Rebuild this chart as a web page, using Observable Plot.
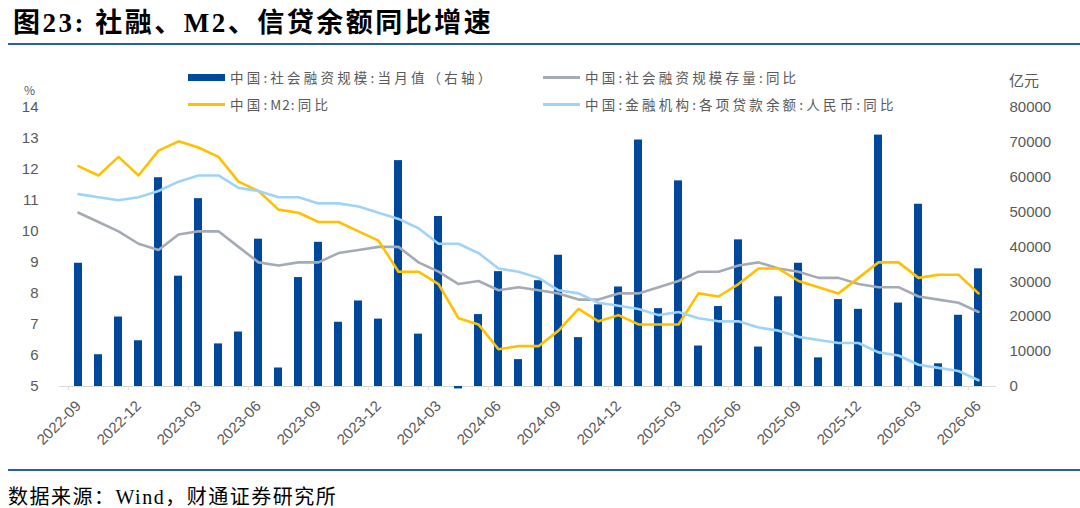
<!DOCTYPE html>
<html><head><meta charset="utf-8">
<script src="https://cdn.jsdelivr.net/npm/d3@7"></script>
<script src="https://cdn.jsdelivr.net/npm/@observablehq/plot@0.6"></script>
<style>
body{margin:0;background:#fff;}
#wrap{position:relative;width:1080px;height:508px;overflow:hidden;background:#fff;font-family:"Liberation Sans",Arial,sans-serif;}
#chart{position:absolute;left:0;top:0;}
.abs{position:absolute;white-space:nowrap;}
#title{left:13px;top:4px;font-family:"Liberation Serif","Noto Sans CJK SC",serif;font-weight:bold;font-size:27px;color:#000;line-height:38px;letter-spacing:2.5px;}
.rule{position:absolute;left:8px;width:1072px;height:2px;background:#2a5fa8;}
#source{left:8px;top:485px;font-family:"Liberation Serif","Noto Sans CJK SC",serif;font-size:20px;color:#000;line-height:24px;letter-spacing:1.5px;}
.lg{font-family:"Noto Sans CJK SC",sans-serif;font-size:13.5px;letter-spacing:3.2px;color:#595959;line-height:16px;}
.tight{letter-spacing:1px;}
.sw{position:absolute;}
.unit{font-family:"Noto Sans CJK SC",sans-serif;color:#595959;}
</style></head>
<body><div id="wrap">
<div id="chart"></div>
<div class="abs" id="title">图23: 社融、M2、信贷余额同比增速</div>
<div class="rule" style="top:43px"></div>
<div class="rule" style="top:469px"></div>
<div class="abs" id="source">数据来源：Wind，财通证券研究所</div>
<div class="sw" style="left:188px;top:73.5px;width:37px;height:7px;background:#00489b"></div>
<div class="abs lg" style="left:230px;top:69px">中国:社会融资规模:当月值（右轴）</div>
<div class="sw" style="left:543px;top:75.5px;width:37px;height:3px;background:#a5abb5"></div>
<div class="abs lg" style="left:585px;top:69px">中国:社会融资规模存量:同比</div>
<div class="sw" style="left:188px;top:102.5px;width:37px;height:3px;background:#ffc000"></div>
<div class="abs lg" style="left:230px;top:96px">中国:<span class="tight">M2</span>:同比</div>
<div class="sw" style="left:543px;top:102.5px;width:37px;height:3px;background:#9fd3f7"></div>
<div class="abs lg" style="left:585px;top:96px">中国:金融机构:各项贷款余额:人民币:同比</div>
<div class="abs unit" style="left:24px;top:82px;font-size:12px;line-height:16px">%</div>
<div class="abs unit" style="left:1009px;top:71px;font-size:15px;line-height:18px">亿元</div>
</div>
<script>
const months = ["2022-09","2022-10","2022-11","2022-12","2023-01","2023-02","2023-03","2023-04","2023-05","2023-06","2023-07","2023-08","2023-09","2023-10","2023-11","2023-12","2024-01","2024-02","2024-03","2024-04","2024-05","2024-06","2024-07","2024-08","2024-09","2024-10","2024-11","2024-12","2025-01","2025-02","2025-03","2025-04","2025-05","2025-06","2025-07","2025-08","2025-09","2025-10","2025-11","2025-12","2026-01","2026-02","2026-03","2026-04","2026-05","2026-06"];
// 社会融资规模:当月值 (亿元, right axis)
const tsfFlow = [35300,9100,19900,13100,59800,31600,53800,12200,15600,42200,5300,31200,41300,18400,24500,19300,64700,15000,48700,-700,20600,32900,7700,30300,37600,14000,23400,28500,70600,22300,58900,11600,22900,42000,11300,25700,35300,8200,24900,22100,72000,23900,52200,6500,20400,33700];
// 社会融资规模存量:同比 (%)
const tsfStock = [10.6,10.3,10.0,9.6,9.4,9.9,10.0,10.0,9.5,9.0,8.9,9.0,9.0,9.3,9.4,9.5,9.5,9.0,8.7,8.3,8.4,8.1,8.2,8.1,8.0,7.8,7.8,8.0,8.0,8.2,8.4,8.7,8.7,8.9,9.0,8.8,8.7,8.5,8.5,8.3,8.2,8.2,7.9,7.8,7.7,7.4];
// M2:同比 (%)
const m2 = [12.1,11.8,12.4,11.8,12.6,12.9,12.7,12.4,11.6,11.3,10.7,10.6,10.3,10.3,10.0,9.7,8.7,8.7,8.3,7.2,7.0,6.2,6.3,6.3,6.8,7.5,7.1,7.3,7.0,7.0,7.0,8.0,7.9,8.3,8.8,8.8,8.4,8.2,8.0,8.5,9.0,9.0,8.5,8.6,8.6,8.0];
// 金融机构:各项贷款余额:人民币:同比 (%)
const loans = [11.2,11.1,11.0,11.1,11.3,11.6,11.8,11.8,11.4,11.3,11.1,11.1,10.9,10.9,10.8,10.6,10.4,10.1,9.6,9.6,9.3,8.8,8.7,8.5,8.1,8.0,7.7,7.6,7.5,7.3,7.4,7.2,7.1,7.1,6.9,6.8,6.6,6.5,6.4,6.4,6.1,6.0,5.7,5.6,5.5,5.2];
const leftTicks = [5,6,7,8,9,10,11,12,13,14];
const rightTicks = [0,10000,20000,30000,40000,50000,60000,70000,80000];
const xTickMonths = months.filter((m, i) => i % 3 === 0);

const toLeft = d3.scaleLinear().domain([0, 80000]).range([5, 14]);
const rows = months.map((m, i) => ({month: m, flow: tsfFlow[i], stock: tsfStock[i], m2: m2[i], loans: loans[i]}));

const W = 1080, mL = 59, mR = 84;
const bw = (W - mL - mR) / months.length;

const chart = Plot.plot({
  width: W, height: 508,
  marginTop: 106.7, marginBottom: 122, marginLeft: mL, marginRight: mR,
  x: {type: "band", domain: months, padding: 0},
  y: {domain: [5, 14]},
  style: {background: "transparent", fontFamily: "Liberation Sans, Arial, sans-serif", fontSize: "15px", color: "#595959", overflow: "visible"},
  marks: [
    Plot.ruleY([5], {stroke: "#d9d9d9", strokeWidth: 1}),
    Plot.barY(rows, {x: "month", y1: () => toLeft(0), y2: d => toLeft(d.flow), fill: "#00489b", insetLeft: 6, insetRight: 6}),
    Plot.lineY(rows, {x: "month", y: "stock", stroke: "#a5abb5", strokeWidth: 2.6}),
    Plot.lineY(rows, {x: "month", y: "m2", stroke: "#ffc000", strokeWidth: 2.6}),
    Plot.lineY(rows, {x: "month", y: "loans", stroke: "#9fd3f7", strokeWidth: 2.6}),
    Plot.axisY(leftTicks, {tickSize: 0, tickPadding: 21, label: null, fill: "#595959"}),
    Plot.axisY(rightTicks.map(v => toLeft(v)), {anchor: "right", tickSize: 0, tickPadding: 13, label: null, fill: "#595959", tickFormat: d => String(Math.round(toLeft.invert(d)))}),
    Plot.axisX(xTickMonths, {text: null, tickSize: 4, stroke: "#d9d9d9", dx: -bw / 2, label: null}),
    Plot.axisX(xTickMonths, {tickSize: 0, tickPadding: 17, tickRotate: -45, label: null, fill: "#595959"})
  ]
});
document.getElementById("chart").appendChild(chart);
</script>
</body></html>
